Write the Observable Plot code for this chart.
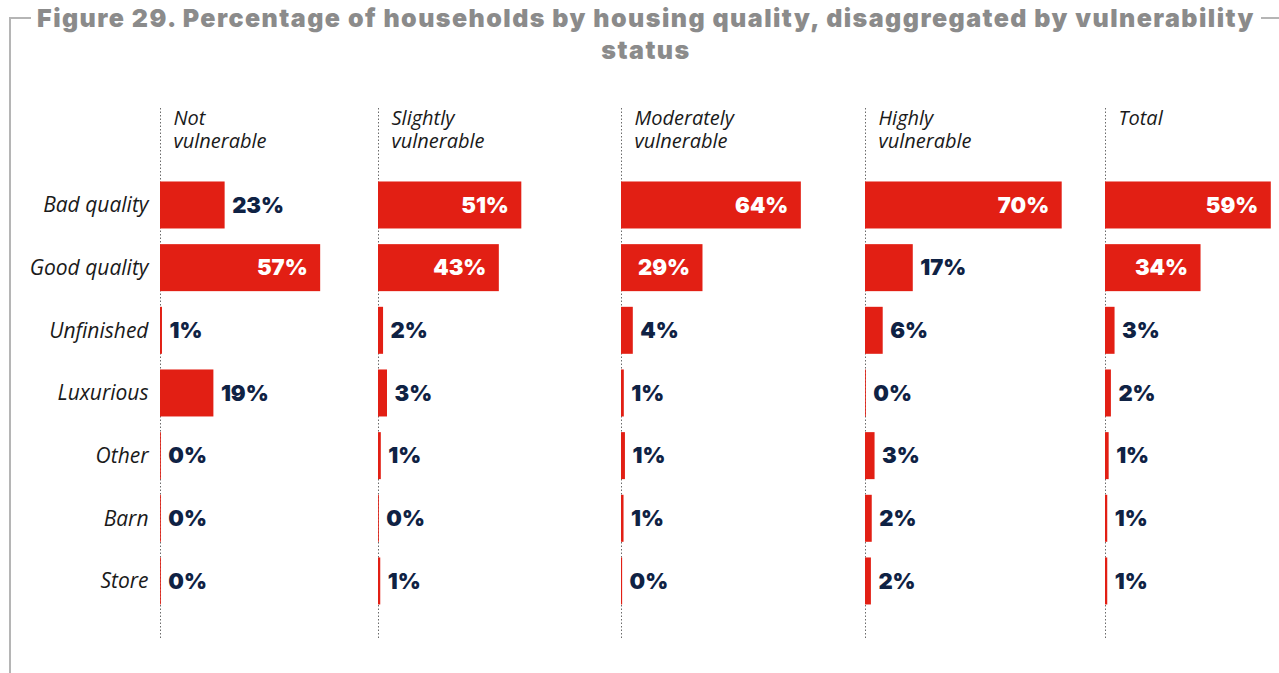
<!DOCTYPE html>
<html><head><meta charset="utf-8">
<script src="https://cdn.jsdelivr.net/npm/d3@7"></script>
<script src="https://cdn.jsdelivr.net/npm/@observablehq/plot@0.6"></script>
<style>
html,body{margin:0;padding:0;background:#fff;overflow:hidden;width:1279px;height:673px}
#frame{position:absolute;left:9px;top:17px;width:1300px;height:680px;border-left:2px solid #b5b5b5;border-top:2px solid #b5b5b5}
#title{position:absolute;left:31px;top:2px;width:1230px;background:#fff;text-align:center;font:900 25px/32px Inter,sans-serif;letter-spacing:1.45px;color:#8b8b8b;white-space:nowrap}
.col{position:absolute;top:0}
</style></head><body>
<div id="frame"></div>
<div id="title">Figure 29. Percentage of households by housing quality, disaggregated by vulnerability<br>status</div>
<div id="chart"></div>
<script>
const categories = ["Bad quality", "Good quality", "Unfinished", "Luxurious", "Other", "Barn", "Store"];
const groups = ["Not vulnerable", "Slightly vulnerable", "Moderately vulnerable", "Highly vulnerable", "Total"];
const groupLabels = ["Not\nvulnerable", "Slightly\nvulnerable", "Moderately\nvulnerable", "Highly\nvulnerable", "Total"];
const notVulnerable      = [23, 57, 0.7, 19, 0.3, 0.3, 0.3];
const slightlyVulnerable = [51, 43, 1.8, 3.2, 1.0, 0.3, 0.8];
const moderatelyVulnerable = [64, 29, 4.2, 1.0, 1.4, 0.9, 0.4];
const highlyVulnerable   = [70, 17, 6.3, 0.3, 3.4, 2.4, 2.1];
const total              = [59, 34, 3.4, 2.1, 1.3, 0.8, 0.8];
const series = [notVulnerable, slightlyVulnerable, moderatelyVulnerable, highlyVulnerable, total];

const origins = [160, 378, 621, 865, 1105];
const pxPerPct = 2.81;
const fmt = v => d3.format(".0f")(v) + "%";
const chart = document.getElementById("chart");

series.forEach((vals, i) => {
  const data = categories.map((c, j) => ({category: c, value: vals[j]}));
  const first = i === 0;
  const ml = first ? origins[0] : 2;
  const inner = (i < origins.length - 1 ? origins[i + 1] : 1279) - origins[i];
  const left = origins[i] - ml;
  const plot = Plot.plot({
    width: ml + inner,
    height: 673,
    marginLeft: ml,
    marginRight: 0,
    marginTop: 108,
    marginBottom: 33,
    style: {fontFamily: "'Open Sans', sans-serif", background: "transparent", overflow: "visible"},
    x: {domain: [0, inner / pxPerPct], axis: null},
    y: {domain: categories, paddingInner: 0.25, paddingOuter: 0.87, align: 0.674, round: false, axis: null},
    marks: [
      Plot.ruleX([0], {stroke: "#6b6b6b", strokeDasharray: "1.5,2", strokeWidth: 1}),
      Plot.barX(data, {x: "value", y: "category", fill: "#e21f14"}),
      Plot.text(data.filter(d => d.value >= 25), {x: "value", y: "category", text: d => fmt(d.value), textAnchor: "end", dx: -13, fill: "#fff", fontSize: 22, fontWeight: 900, fontFamily: "Inter, sans-serif"}),
      Plot.text(data.filter(d => d.value < 25), {x: "value", y: "category", text: d => fmt(d.value), textAnchor: "start", dx: 7, fill: "#0f2244", fontSize: 22, fontWeight: 900, fontFamily: "Inter, sans-serif"}),
      Plot.text([groupLabels[i]], {frameAnchor: "top-left", dx: 13, dy: 1, lineAnchor: "top", lineHeight: 1.12, fontSize: 20, fontStyle: "italic", fill: "#1a1a1a"}),
      first ? Plot.axisY({tickSize: 0, tickPadding: 12, fontSize: 21, fontStyle: "italic", fill: "#1a1a1a", label: null}) : null
    ]
  });
  plot.classList.add("col");
  plot.style.left = left + "px";
  chart.appendChild(plot);
});
</script>
</body></html>
